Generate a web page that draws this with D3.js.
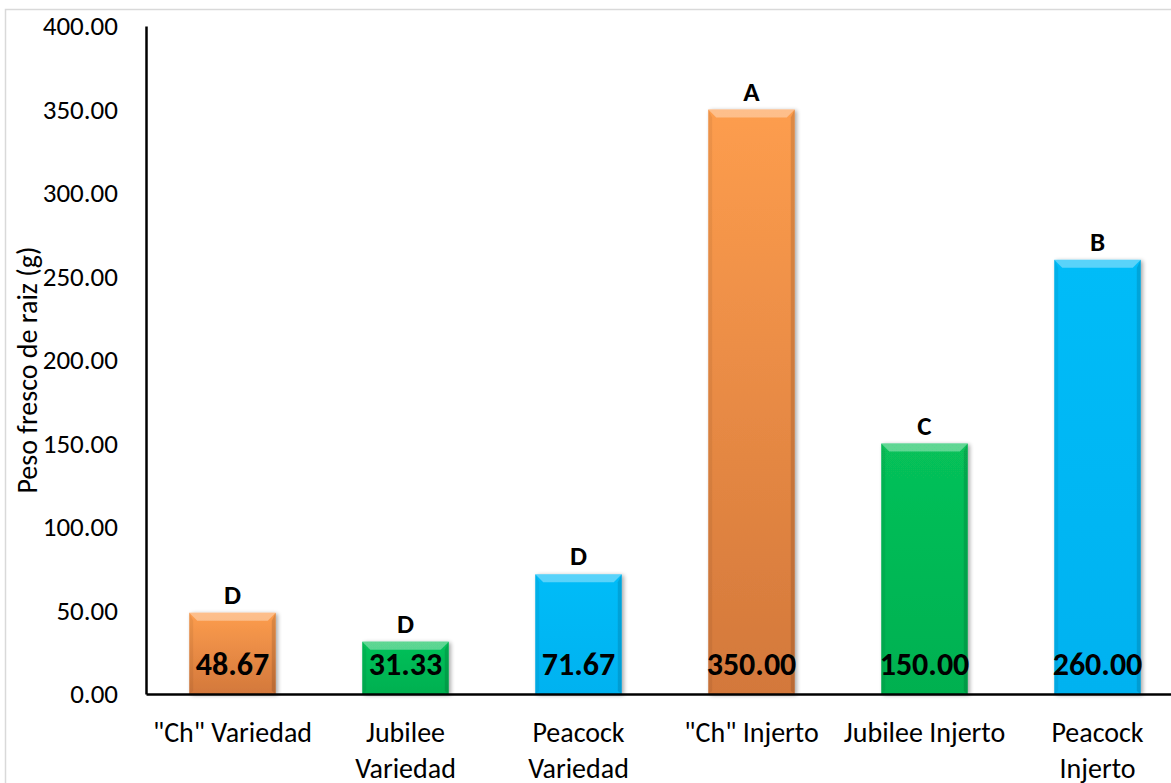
<!DOCTYPE html>
<html>
<head>
<meta charset="utf-8">
<script src="https://cdn.jsdelivr.net/npm/d3@7"></script>
<style>
  body { margin: 0; background: #fff; }
  svg { display: block; font-family: Carlito, Lato, "Open Sans", sans-serif; }
</style>
</head>
<body>
<div id="chart"></div>
<script>
// data
var categories = ['"Ch" Variedad', 'Jubilee Variedad', 'Peacock Variedad', '"Ch" Injerto', 'Jubilee Injerto', 'Peacock Injerto'];
var categoryLines = [['"Ch" Variedad'], ['Jubilee', 'Variedad'], ['Peacock', 'Variedad'], ['"Ch" Injerto'], ['Jubilee Injerto'], ['Peacock', 'Injerto']];
var values = [48.67, 31.33, 71.67, 350.00, 150.00, 260.00];
var letters = ['D', 'D', 'D', 'A', 'C', 'B'];
var colorKeys = ['orange', 'green', 'blue', 'orange', 'green', 'blue'];
var yTicks = [0, 50, 100, 150, 200, 250, 300, 350, 400];

var width = 1171, height = 783;
var svg = d3.select('#chart').append('svg')
    .attr('width', width)
    .attr('height', height);

var defs = svg.append('defs');

// gradients per colour
var grads = {
    orange: [['0%', '#fd9d4e'], ['100%', '#d3783b']],
    green: [['0%', '#07c15a'], ['100%', '#00b050']],
    blue: [['0%', '#04bcf8'], ['100%', '#00b2f0']]
};
Object.keys(grads).forEach(function (k) {
    var g = defs.append('linearGradient').attr('id', 'g-' + k)
        .attr('x1', 0).attr('y1', 0).attr('x2', 0).attr('y2', 1);
    grads[k].forEach(function (s) {
        g.append('stop').attr('offset', s[0]).attr('stop-color', s[1]);
    });
});

var shadow = defs.append('filter').attr('id', 'shadow')
    .attr('x', '-10%').attr('y', '-10%').attr('width', '130%').attr('height', '130%');
shadow.append('feGaussianBlur').attr('in', 'SourceAlpha').attr('stdDeviation', 2);
shadow.append('feOffset').attr('dx', 2).attr('dy', 1).attr('result', 'b');
shadow.append('feComponentTransfer').append('feFuncA').attr('type', 'linear').attr('slope', 0.35);
var merge = shadow.append('feMerge');
merge.append('feMergeNode');
merge.append('feMergeNode').attr('in', 'SourceGraphic');

// outer chart border
svg.append('rect')
    .attr('x', 5.5).attr('y', 9.5)
    .attr('width', 1200).attr('height', 800)
    .attr('fill', 'none')
    .attr('stroke', '#d9d9d9')
    .attr('stroke-width', 1.5);

var x = d3.scaleBand()
    .domain(categories)
    .range([146, 1184])
    .paddingInner(0.5)
    .paddingOuter(0.25);

var y = d3.scaleLinear()
    .domain([0, 400])
    .range([694, 26]);

// bars
var bars = svg.selectAll('.bar')
    .data(values)
    .enter().append('g')
    .attr('class', 'bar');

bars.append('rect')
    .attr('x', (d, i) => x(categories[i]))
    .attr('y', d => y(d))
    .attr('width', x.bandwidth())
    .attr('height', d => y(0) - y(d))
    .attr('fill', (d, i) => 'url(#g-' + colorKeys[i] + ')')
    .attr('filter', 'url(#shadow)');

// bevel: light top, darker sides
var bev = 8;
bars.append('path')
    .attr('d', function (d, i) {
        var x0 = x(categories[i]), x1 = x0 + x.bandwidth(), t = y(d);
        return 'M' + x0 + ',' + t + 'L' + x1 + ',' + t + 'L' + (x1 - bev) + ',' + (t + bev) + 'L' + (x0 + bev) + ',' + (t + bev) + 'Z';
    })
    .attr('fill', '#fff').attr('opacity', 0.35);
bars.append('path')
    .attr('d', function (d, i) {
        var x0 = x(categories[i]), t = y(d), b = y(0);
        return 'M' + x0 + ',' + t + 'L' + (x0 + 4) + ',' + (t + bev) + 'L' + (x0 + 4) + ',' + (b - 3) + 'L' + x0 + ',' + b + 'Z';
    })
    .attr('fill', '#000').attr('opacity', 0.06);
bars.append('path')
    .attr('d', function (d, i) {
        var x1 = x(categories[i]) + x.bandwidth(), t = y(d), b = y(0);
        return 'M' + x1 + ',' + t + 'L' + (x1 - 4) + ',' + (t + bev) + 'L' + (x1 - 4) + ',' + (b - 3) + 'L' + x1 + ',' + b + 'Z';
    })
    .attr('fill', '#000').attr('opacity', 0.12);

// value labels inside bars near the base
bars.append('text')
    .attr('x', (d, i) => x(categories[i]) + x.bandwidth() / 2)
    .attr('y', y(0) - 19)
    .attr('text-anchor', 'middle')
    .attr('font-size', 32)
    .attr('font-weight', 'bold')
    .attr('fill', '#000')
    .text(d => d3.format('.2f')(d));

// significance letters
bars.append('text')
    .attr('x', (d, i) => x(categories[i]) + x.bandwidth() / 2)
    .attr('y', d => y(d) - 9)
    .attr('text-anchor', 'middle')
    .attr('font-size', 27)
    .attr('font-weight', 'bold')
    .attr('fill', '#000')
    .text((d, i) => letters[i]);

// y axis
var yAxis = d3.axisLeft(y)
    .tickValues(yTicks)
    .tickSize(0)
    .tickPadding(28)
    .tickFormat(d3.format('.2f'));
var gy = svg.append('g')
    .attr('transform', 'translate(146,0)')
    .call(yAxis);
gy.select('.domain').attr('stroke', '#000').attr('stroke-width', 2.5);
gy.selectAll('text').attr('font-size', 27).attr('fill', '#000')
    .attr('font-family', 'Carlito, Lato, "Open Sans", sans-serif');

// x axis
var xAxis = d3.axisBottom(x).tickSize(0).tickFormat('');
var gx = svg.append('g')
    .attr('transform', 'translate(0,694)')
    .call(xAxis);
gx.select('.domain').attr('stroke', '#000').attr('stroke-width', 2.5);

var xl = svg.selectAll('.xlabel')
    .data(categoryLines)
    .enter().append('text')
    .attr('class', 'xlabel')
    .attr('text-anchor', 'middle')
    .attr('font-size', 28)
    .attr('fill', '#000')
    .attr('transform', (d, i) => 'translate(' + (x(categories[i]) + x.bandwidth() / 2) + ',742)');
xl.selectAll('tspan')
    .data(d => d)
    .enter().append('tspan')
    .attr('x', 0)
    .attr('dy', (d, j) => j === 0 ? 0 : 36)
    .text(d => d);

// y axis title
svg.append('text')
    .attr('transform', 'translate(37,370) rotate(-90)')
    .attr('text-anchor', 'middle')
    .attr('font-size', 28)
    .attr('fill', '#000')
    .text('Peso fresco de raiz (g)');
</script>
</body>
</html>
